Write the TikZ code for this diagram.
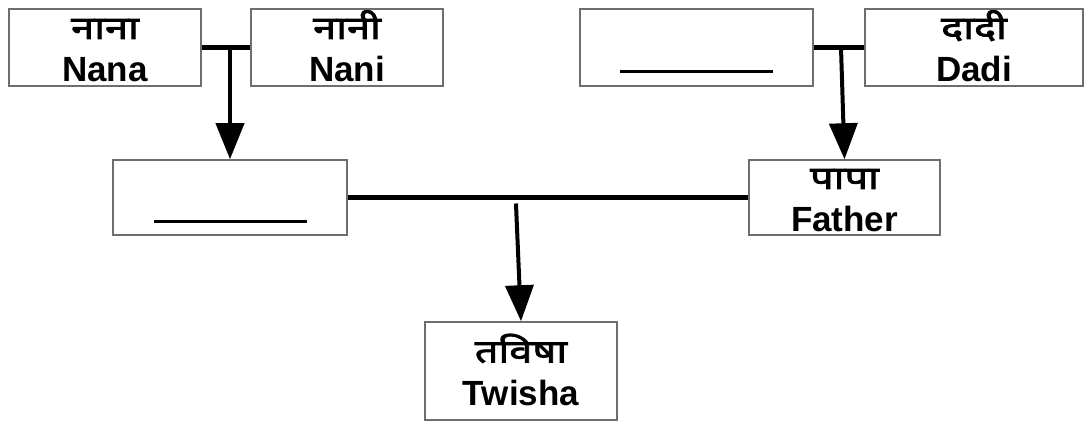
\documentclass[tikz,border=0pt]{standalone}
\usepackage{fontspec}
\setmainfont{Liberation Sans}
\newfontfamily\deva[Script=Devanagari,FakeBold=2.5,FakeStretch=1.3]{Noto Sans}
\usetikzlibrary{arrows.meta,calc,positioning}
\definecolor{boxColor}{RGB}{110,110,110}
\newcommand{\personname}[2]{\rule{0pt}{26pt}\smash{\deva\fontsize{32}{43}\selectfont #1}\\\smash{#2}}
\newcommand{\blankname}{\rule{0pt}{26pt}\\\raisebox{9pt}{\rule{153pt}{3pt}}}
\tikzset{person/.style={draw=boxColor, line width=1.5pt, align=center, inner sep=0pt, minimum height=77pt, font=\bfseries\fontsize{35}{43}\selectfont}}
\tikzstyle{arrow} = [line width=4pt, -{Triangle[length=36pt,width=28pt]}]
\tikzstyle{couple} = [line width=5pt]

\begin{document}
\begin{tikzpicture}[x=1pt,y=1pt]
	\useasboundingbox (0,0) rectangle (1085,423);
	% Nodes
		\node (nana) [person, minimum width=192pt] at (105,375.5) {\personname{नाना}{Nana}};
		\node (nani) [person, minimum width=192pt] at (347,375.5) {\personname{नानी}{Nani}};
		\node (dada) [person, minimum width=233pt] at (696.5,375.5) {\blankname};
		\node (dadi) [person, minimum width=218pt] at (974,375.5) {\personname{दादी}{Dadi}};

		\node (mother) [person, minimum width=234pt, minimum height=75pt] at (230,225.5) {\blankname};
		\node (father) [person, minimum width=191pt, minimum height=75pt] at (844.5,225.5) {\personname{पापा}{Father}};

		\node (twisha) [person, minimum width=192pt, minimum height=98pt] at (521,52) {\personname{तविषा}{Twisha}};

		\coordinate (nanapair) at ($(nana.east)!0.5!(nani.west)$);
		\coordinate (dadapair) at ($(dada.east)!0.5!(dadi.west)+(2,0)$);
		\coordinate (parents) at ($(mother.east)!0.42!(father.west)+(0,-6)$);

	% Connectors
		\draw [couple] (nana.east) -- (nani.west);
		\draw [couple] (dada.east) -- (dadi.west);
		\draw [couple] (mother.east) -- (father.west);

		\draw [arrow] (mother.north |- nanapair) -- (mother.north);
		\draw [arrow] (dadapair) -- (father.north);
		\draw [arrow] (parents) -- (twisha.north);
\end{tikzpicture}
\end{document}
